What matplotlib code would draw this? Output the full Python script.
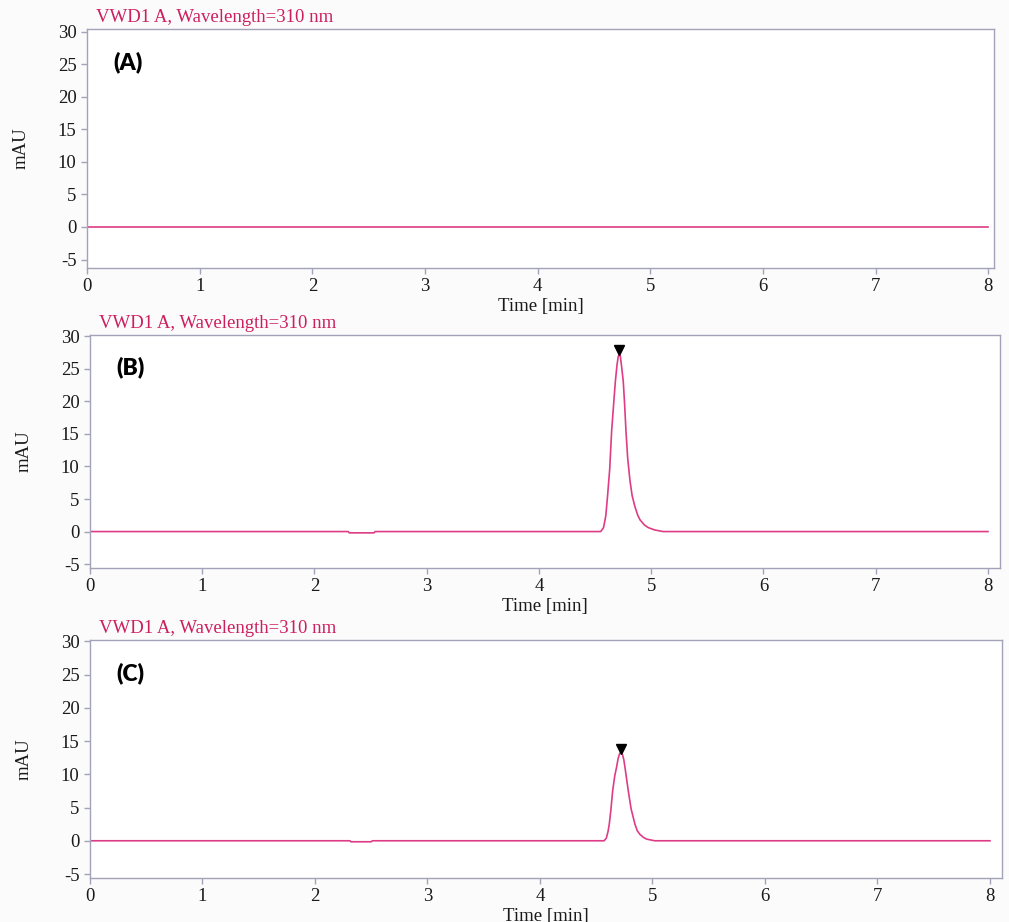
import matplotlib
matplotlib.use("Agg")
import matplotlib.pyplot as plt

plt.rcParams['font.family'] = ['Liberation Serif', 'DejaVu Serif']
plt.rcParams['axes.unicode_minus'] = False

# chromatogram traces (time in min, signal in mAU)
t_a = [0.0, 8.0]
y_a = [0.0, 0.0]

t_b = [0.0, 2.30, 2.31, 2.53, 2.54, 4.55, 4.575, 4.595, 4.61, 4.63, 4.647, 4.665, 4.68,
       4.695, 4.705, 4.715, 4.725, 4.737, 4.751, 4.763, 4.775, 4.79, 4.81, 4.83,
       4.855, 4.88, 4.90, 4.94, 4.974, 5.03, 5.105, 8.0]
y_b = [0.0, 0.0, -0.2, -0.2, 0.0, 0.0, 0.6, 2.4, 5.3, 9.6, 15.4, 19.6, 23.0,
       25.6, 26.8, 27.3, 26.9, 25.2, 23.0, 19.5, 15.4, 11.3, 7.9, 5.5,
       3.8, 2.5, 1.8, 1.0, 0.6, 0.25, 0.0, 0.0]

t_c = [0.0, 2.31, 2.32, 2.50, 2.51, 4.57, 4.59, 4.605, 4.616, 4.63, 4.646, 4.665, 4.68,
       4.695, 4.708, 4.72, 4.733, 4.745, 4.756, 4.77, 4.785, 4.81, 4.844, 4.865,
       4.889, 4.92, 4.948, 5.02, 8.0]
y_c = [0.0, 0.0, -0.15, -0.15, 0.0, 0.0, 0.4, 1.4, 2.5, 4.6, 7.5, 9.8, 11.0,
       12.4, 13.1, 13.3, 13.0, 12.2, 11.0, 9.3, 7.5, 4.8, 2.5, 1.5,
       0.95, 0.5, 0.25, 0.0, 0.0]

# detected peak apex per panel (None = no peak)
peaks = [None, (4.715, 27.3), (4.72, 13.3)]
panel_labels = ['(A)', '(B)', '(C)']
title = 'VWD1 A, Wavelength=310 nm'
xticks = [0, 1, 2, 3, 4, 5, 6, 7, 8]
yticks = [-5, 0, 5, 10, 15, 20, 25, 30]

line_col = '#de3c86'
title_col = '#cc1f5e'
spine_col = '#a2a2b8'

fig = plt.figure(figsize=(10.09, 9.22), dpi=100, facecolor='#fbfbfb')
W, H = 1009, 922
boxes = [(87, 29, 994, 268), (90, 335, 1000, 568), (90, 640, 1002, 878)]
xmax = [8.05, 8.107, 8.107]
ylims = [(-6.3, 30.4), (-5.6, 30.2), (-5.6, 30.2)]
traces = [(t_a, y_a), (t_b, y_b), (t_c, y_c)]

for i, (l, t, r, b) in enumerate(boxes):
    ax = fig.add_axes([l / W, 1 - b / H, (r - l) / W, (b - t) / H])
    ax.set_facecolor('white')
    tx, ty = traces[i]
    ax.plot(tx, ty, color=line_col, lw=1.2)
    if peaks[i] is not None:
        pt, py = peaks[i]
        ax.plot([pt], [py + 0.55], marker='v', color='black', ms=6.5, ls='none')
    ax.set_xlim(0, xmax[i])
    ax.set_ylim(*ylims[i])
    ax.set_xticks(xticks)
    ax.set_yticks(yticks)
    for s in ax.spines.values():
        s.set_color(spine_col)
        s.set_linewidth(1.0)
    ax.tick_params(colors=spine_col, labelcolor='#1a1a1a', labelsize=13.5,
                   length=4, width=1.0)
    ax.set_xlabel('Time [min]', fontsize=13.5, color='#1a1a1a', labelpad=2)
    ax.set_ylabel('mAU', fontsize=13.5, color='#1a1a1a', labelpad=20)
    ax.text(0.01, 1.012, title, transform=ax.transAxes, color=title_col,
            fontsize=13.5, ha='left', va='bottom')
    ax.text(0.029, 0.862, panel_labels[i], transform=ax.transAxes,
            fontsize=16.5, fontweight='heavy', family=['Lato', 'DejaVu Sans'],
            ha='left', va='center', color='black')

fig.savefig('out.png', dpi=100, facecolor=fig.get_facecolor())
